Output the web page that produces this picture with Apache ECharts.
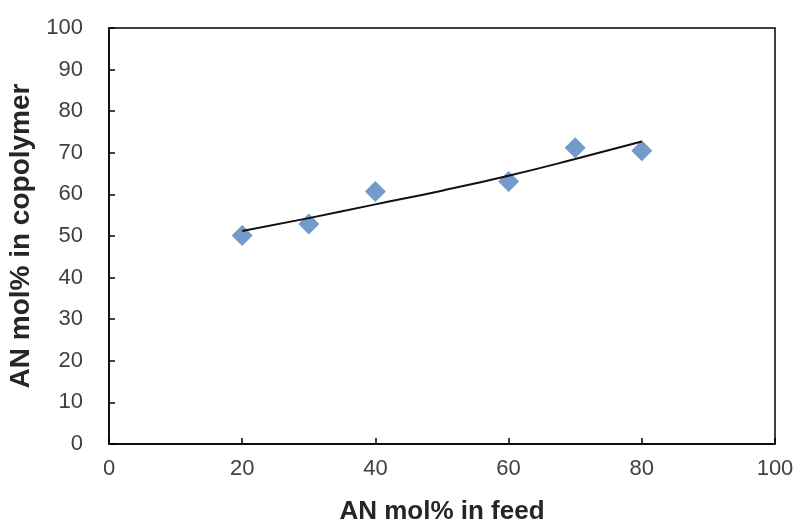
<!DOCTYPE html>
<html>
<head>
<meta charset="utf-8">
<script src="https://cdn.jsdelivr.net/npm/echarts@6/dist/echarts.min.js"></script>
<style>html,body{margin:0;padding:0;background:#fff}#c{width:798px;height:527px}</style>
</head>
<body>
<div id="c"></div>
<script>
var feed = [20, 30, 40, 60, 70, 80];
var copolymer = [50.1, 52.9, 60.7, 63.1, 71.2, 70.5];
var fitX = [20, 30, 40, 50, 60, 70, 80];
var fitY = [51.2, 54.3, 57.6, 60.9, 64.5, 68.5, 72.7];
var xTicks = [0, 20, 40, 60, 80, 100];
var yTicks = [0, 10, 20, 30, 40, 50, 60, 70, 80, 90, 100];

var chart = echarts.init(document.getElementById('c'), null, {renderer: 'canvas'});
chart.setOption({
  animation: false,
  grid: {left: 109, right: 23, top: 28, bottom: 83, containLabel: false, outerBoundsMode: 'none',
         show: true, borderColor: '#000', borderWidth: 1.5},
  xAxis: {
    type: 'value', min: xTicks[0], max: xTicks[xTicks.length - 1], interval: 20,
    name: 'AN mol% in feed', nameLocation: 'middle', nameGap: 55,
    nameTextStyle: {fontFamily: 'Liberation Sans', fontWeight: 'bold', fontSize: 26, color: '#262626'},
    axisLine: {lineStyle: {color: '#000', width: 1.5}},
    axisTick: {inside: true, length: 6, lineStyle: {color: '#000', width: 1.5}},
    axisLabel: {fontFamily: 'Liberation Sans', fontSize: 22, color: '#404040', margin: 14},
    splitLine: {show: false}
  },
  yAxis: {
    type: 'value', min: yTicks[0], max: yTicks[yTicks.length - 1], interval: 10,
    name: 'AN mol% in copolymer', nameLocation: 'middle', nameGap: 71,
    nameTextStyle: {fontFamily: 'Liberation Sans', fontWeight: 'bold', fontSize: 28, color: '#262626'},
    axisLine: {lineStyle: {color: '#000', width: 1.5}},
    axisTick: {inside: true, length: 6, lineStyle: {color: '#000', width: 1.5}},
    axisLabel: {fontFamily: 'Liberation Sans', fontSize: 22, color: '#404040', margin: 26},
    splitLine: {show: false}
  },
  series: [
    {
      type: 'line', data: fitX.map(function (x, i) { return [x, fitY[i]]; }),
      smooth: 0.5, showSymbol: false, symbol: 'none',
      lineStyle: {color: '#111', width: 2}, z: 3
    },
    {
      type: 'scatter', data: feed.map(function (x, i) { return [x, copolymer[i]]; }),
      symbol: 'diamond', symbolSize: 21,
      itemStyle: {color: '#4F81BD'}, z: 2
    }
  ]
});
</script>
</body>
</html>
